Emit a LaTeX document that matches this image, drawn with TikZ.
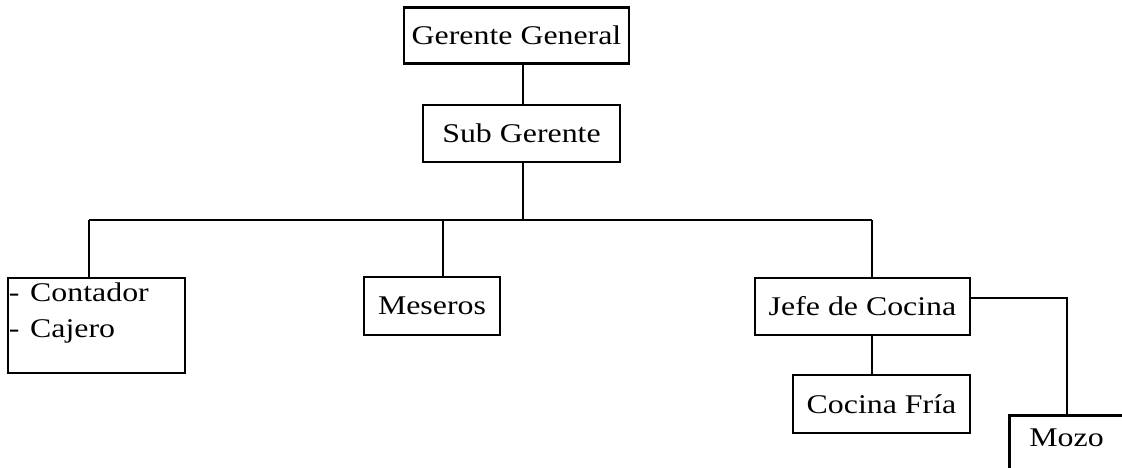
\documentclass[tikz,border=0pt]{standalone}
\usepackage{fontspec}
\setmainfont{Liberation Serif}
\newcommand{\hs}[1]{\scalebox{1.18}[1]{#1}}
\begin{document}
\begin{tikzpicture}[x=1pt,y=-1pt,
  box/.style={draw, line width=2.8pt, inner sep=0pt, font=\fontsize{27}{32}\selectfont},
  conn/.style={line width=2.8pt}]
\useasboundingbox (0,0) rectangle (1122,468);
\clip (0,0) rectangle (1122,468);
\node[box, minimum width=225, minimum height=56] (gg) at (516.5,35.5) {\hs{Gerente General}};
\node[box, minimum width=197, minimum height=57] (sg) at (521.5,133.5) {\hs{Sub Gerente}};
\coordinate (v) at (523,0);
\coordinate (busL) at (89,220);
\coordinate (busM) at (443,220);
\coordinate (busR) at (872,220);
\node[box, minimum width=177, minimum height=95, text width=175, align=left, inner xsep=1pt] (cont) at (96.5,325.5) {\begin{tabular}{@{}l@{}}\hs{- Contador}\\[4pt]\hs{- Cajero}\\[24pt]\end{tabular}};
\node[box, minimum width=136, minimum height=58] (mes) at (432,306) {\hs{Meseros}};
\node[box, minimum width=215, minimum height=57] (jefe) at (862.5,306.5) {\hs{Jefe de Cocina}};
\node[box, minimum width=177, minimum height=58] (fria) at (881.5,404) {\hs{Cocina Fría}};
\node[box, anchor=north west, minimum height=66, text width=120, align=left, inner xsep=20pt, inner ysep=2pt, text depth=22pt] (mozo) at (1008,414) {\hs{Mozo}};
\coordinate (mz) at (1067,0);
\draw[conn] (gg.south -| v) -- (sg.north -| v);
\draw[conn] (sg.south -| v) -- (v |- busL);
\draw[conn] (busL) -- (busR);
\draw[conn] (busL) -- (busL |- cont.north);
\draw[conn] (busM) -- (busM |- mes.north);
\draw[conn] (busR) -- (busR |- jefe.north);
\draw[conn] (jefe.south -| busR) -- (fria.north -| busR);
\draw[conn] (jefe.east |- 0,298) -- (mz |- 0,298) -- (mz |- mozo.north);
\end{tikzpicture}
\end{document}
